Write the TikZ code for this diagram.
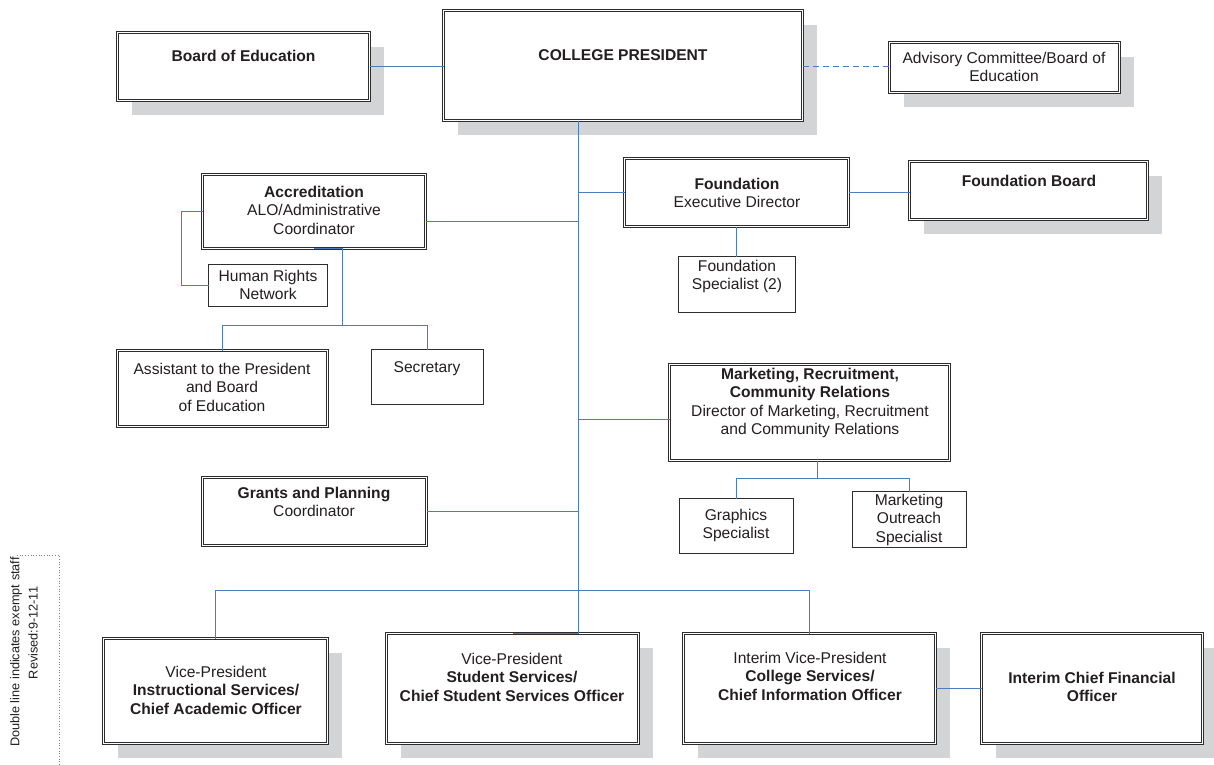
\documentclass[tikz,border=0pt]{standalone}
\usepackage{fontspec}
\setmainfont{Liberation Sans}
\usetikzlibrary{shadows}
\definecolor{shadowgray}{RGB}{211,212,214}
\definecolor{linkblue}{RGB}{74,124,190}
\definecolor{boxgray}{RGB}{45,45,45}
\definecolor{textgray}{RGB}{35,31,32}
\newcommand{\twobox}[6]{\node[dbl,#1, minimum width={#5-#3-3}, minimum height={#6-#4-3}] (#2) at ({(#3+#5)/2},{(#4+#6)/2}) {};}
\newcommand{\onebox}[6]{\node[sgl,#1, minimum width={#5-#3-1}, minimum height={#6-#4-1}] (#2) at ({(#3+#5)/2},{(#4+#6)/2}) {};}
\tikzset{
 dbl/.style={rectangle, draw=boxgray, line width=0.7pt, double=white, double distance=1.5pt, fill=white, inner sep=0pt, outer sep=0pt},
 sgl/.style={rectangle, draw=boxgray, line width=1pt, fill=white, inner sep=0pt, outer sep=0pt},
 shd/.style={drop shadow={shadow xshift=14pt, shadow yshift=-14pt, fill=shadowgray, opacity=1}},
 link/.style={draw=linkblue, line width=1pt},
 txt/.style={align=center, anchor=north, inner sep=0pt, font=\fontsize{15.6}{18.5}\selectfont, text=textgray},
 notetxt/.style={rotate=90, inner sep=0pt, font=\fontsize{12.7}{15}\selectfont, text=textgray},
}
\begin{document}
\begin{tikzpicture}[x=1pt,y=-1pt]
\useasboundingbox (0,0) rectangle (1214,764);
\fill[white] (0,0) rectangle (1214,764);
% boxes
\twobox{shd}{board}{116}{31}{371}{102}
\twobox{shd}{pres}{442}{9}{804}{122}
\twobox{shd}{adv}{888}{41}{1121}{94}
\twobox{}{acc}{201}{173}{427}{250}
\onebox{}{hr}{208}{264}{328}{307}
\twobox{}{asst}{116}{349}{329}{428}
\onebox{}{sec}{371}{349}{484}{405}
\twobox{}{fnd}{623}{157}{850}{228}
\twobox{shd}{fb}{908}{160}{1149}{221}
\onebox{}{fs}{678}{256}{796}{313}
\twobox{}{mkt}{668}{363}{951}{462}
\onebox{}{gr}{679}{498}{794}{554}
\onebox{}{mo}{852}{491}{967}{548}
\twobox{}{gp}{201}{476}{428}{547}
\twobox{shd}{vpa}{102}{637}{329}{745}
\twobox{shd}{vps}{385}{632}{640}{745}
\twobox{shd}{vpc}{682}{632}{937}{745}
\twobox{shd}{cfo}{980}{632}{1204}{745}
\coordinate (t) at (578.5,0);
% connectors
\draw[link] (board.east) -- (board.east -| pres.west);
\draw[link, dashed, dash pattern=on 6pt off 4pt] (pres.east |- 0,66.5) -- (adv.west |- 0,66.5);
\draw[link] (t |- pres.south) -- (t |- vps.north) -- (vps.north);
\draw[link] (acc.east |- 0,221.5) -- (t |- 0,221.5);
\draw[link] (acc.west) -- ++(-21,0) |- (hr.west);
\draw[link] (acc.south) -- (acc.south -| 342.5,0) -- (342.5,324.5);
\draw[link] (asst.north) -- ++(0,-25) -| (sec.north);
\draw[link] (t |- fnd.west) -- (fnd.west);
\draw[link] (fnd.east) -- (fnd.east -| fb.west);
\draw[link] (fnd.south) -- (fnd.south |- fs.north);
\draw[link] (t |- 0,419.5) -- (mkt.west |- 0,419.5);
\draw[link] (mkt.south -| 817.5,0) -- (817.5,478.5);
\draw[link] (gr.north) -- ++(0,-20) -| (mo.north);
\draw[link] (gp.east) -- (gp.east -| t);
\draw[link] (vpa.north) -- ++(0,-48) -| (vpc.north);
\draw[link] (vpc.east) -- (cfo.west);
% texts
\node[txt] (tboard) at (243.5,49.6) {\textbf{Board of Education}};
\node[txt] (tpres) at (623,49.6) {\textbf{COLLEGE PRESIDENT}};
\node[txt] (tadv) at (1004,51.6) {Advisory Committee/Board of\\Education};
\node[txt] (tacc) at (314,185.6) {\textbf{Accreditation}\\ALO/Administrative\\Coordinator};
\node[txt] (thr) at (268,269.6) {Human Rights\\Network};
\node[txt] (tasst) at (222,362.6) {Assistant to the President\\and Board\\of Education};
\node[txt] (tsec) at (427,361.6) {Secretary};
\node[txt] (tfnd) at (737,177.6) {\textbf{Foundation}\\Executive Director};
\node[txt] (tfb) at (1029,174.6) {\textbf{Foundation Board}};
\node[txt] (tfs) at (737,259.6) {Foundation\\Specialist (2)};
\node[txt] (tmkt) at (810,367.6) {\textbf{Marketing, Recruitment,}\\\textbf{Community Relations}\\Director of Marketing, Recruitment\\and Community Relations};
\node[txt] (tgr) at (736,508.6) {Graphics\\Specialist};
\node[txt] (tmo) at (909,493.6) {Marketing\\Outreach\\Specialist};
\node[txt] (tgp) at (314,486.6) {\textbf{Grants and Planning}\\Coordinator};
\node[txt] (tvpa) at (216,665.6) {Vice-President\\\textbf{Instructional Services/}\\\textbf{Chief Academic Officer}};
\node[txt] (tvps) at (512,652.6) {Vice-President\\\textbf{Student Services/}\\\textbf{Chief Student Services Officer}};
\node[txt] (tvpc) at (810,651.6) {Interim Vice-President\\\textbf{College Services/}\\\textbf{Chief Information Officer}};
\node[txt] (tcfo) at (1092,671.6) {\textbf{Interim Chief Financial}\\\textbf{Officer}};
% note
\draw[dotted, gray, line width=0.7pt] (17,555) -- (59,555) -- (59,770);
\node[notetxt] (note1) at (16,652) {Double line indicates exempt staff};
\node[notetxt] (note2) at (33,633) {Revised:9-12-11};
\end{tikzpicture}
\end{document}
